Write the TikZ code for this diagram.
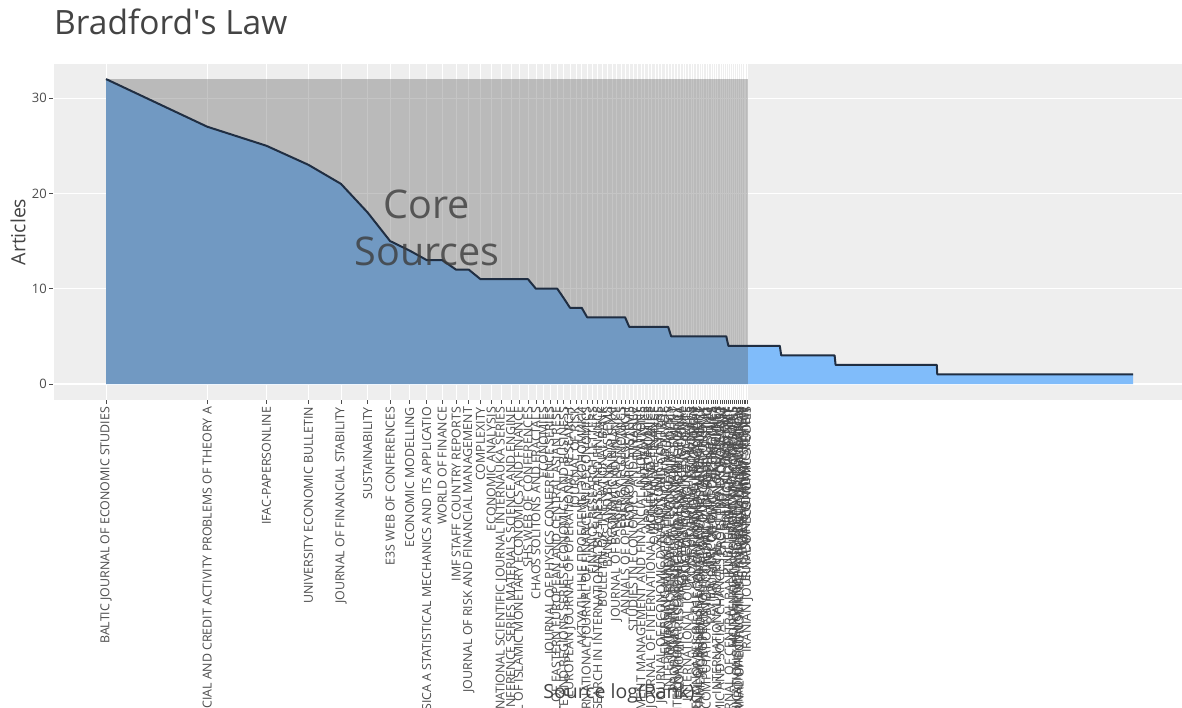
\documentclass[tikz,border=0pt]{standalone}
\usepackage{fontspec}
\setmainfont{Open Sans}
\usetikzlibrary{positioning}
\definecolor{panelgrey}{RGB}{238,238,238}
\definecolor{coregrey}{RGB}{86,86,86}
\definecolor{tailblue}{RGB}{128,188,250}
\definecolor{curveline}{RGB}{32,46,66}
\definecolor{labelgrey}{RGB}{77,77,77}
\definecolor{titlegrey}{RGB}{68,68,68}
\definecolor{coretext}{RGB}{60,60,60}
\tikzstyle{hgrid} = [draw=white, line width=1.2pt]
\tikzstyle{vgrid} = [draw=white, line width=0.6pt]
\tikzstyle{axistick} = [draw=labelgrey, line width=0.6pt]
\tikzstyle{srclabel} = [rotate=90, anchor=east, inner sep=0pt, text=labelgrey, font=\fontsize{12.4}{12.4}\selectfont]
\tikzstyle{ticklabel} = [anchor=east, inner sep=0pt, text=labelgrey, font=\fontsize{13}{13}\selectfont]
\tikzstyle{axistitle} = [inner sep=0pt, text=titlegrey, font=\fontsize{19.5}{20}\selectfont]
\tikzstyle{corelabel} = [anchor=base, inner sep=0pt, text=coretext, text opacity=0.8, font=\fontsize{39.5}{40}\selectfont]
% rank/articles where the curve changes
\def\curvepts{2/27,3/25,4/23,5/21,6/18,7/15,8/14,9/13,10/13,11/12,12/12,13/11,18/11,19/10,22/10,23/9,24/8,26/8,27/7,35/7,36/6,47/6,48/5,70/5,71/4,101/4,102/3,147/3,148/2,296/2,297/1,1135/1}
\begin{document}
\begin{tikzpicture}[x=1pt, y=-1pt]
    \useasboundingbox (0,0) rectangle (1182,707);
    \clip (0,0) rectangle (1182,707);
    \fill[white] (0,0) rectangle (1182,707);
    \node (title) [anchor=base west, inner sep=0pt, text=titlegrey, font=\fontsize{33.5}{34}\selectfont] at (54,34) {Bradford\textquotesingle s Law};
    \fill[panelgrey] (54,64) rectangle (1182,400);

    % x = log(rank), y = articles
    \begin{scope}[shift={(106,384)}, x=146pt, y=9.53pt]
        \foreach \v in {0,10,20,30}
            \draw[hgrid] (-0.36,\v) -- (7.4,\v);
        \foreach \r in {1,...,81}
            \draw[vgrid] ({ln(\r)},-1.68) -- ({ln(\r)},33.6);

        \fill[tailblue] (0,0) -- (0,32) \foreach \r/\v in \curvepts {-- ({ln(\r)},\v)} -- ({ln(1135)},0) -- cycle;
        \fill[coregrey, opacity=0.34] (0,0) rectangle ({ln(81)},32);
        \draw[curveline, line width=2pt, line join=round] (0,32) \foreach \r/\v in \curvepts {-- ({ln(\r)},\v)};

        \foreach \v in {0,10,20,30} {
            \draw[axistick] (-0.39,\v) -- (-0.363,\v);
            \node (ytick\v) [ticklabel] at (-0.404,\v) {\v};
        }

        \foreach \name [count=\r] in {BALTIC JOURNAL OF ECONOMIC STUDIES, FINANCIAL AND CREDIT ACTIVITY PROBLEMS OF THEORY A, IFAC-PAPERSONLINE, UNIVERSITY ECONOMIC BULLETIN, JOURNAL OF FINANCIAL STABILITY, SUSTAINABILITY, E3S WEB OF CONFERENCES, ECONOMIC MODELLING, PHYSICA A STATISTICAL MECHANICS AND ITS APPLICATIO, WORLD OF FINANCE, IMF STAFF COUNTRY REPORTS, JOURNAL OF RISK AND FINANCIAL MANAGEMENT, COMPLEXITY, ECONOMIC ANALYSIS, INTERNATIONAL SCIENTIFIC JOURNAL INTERNAUKA SERIES, IOP CONFERENCE SERIES MATERIALS SCIENCE AND ENGINE, JOURNAL OF ISLAMIC MONETARY ECONOMICS AND FINANCE, SHS WEB OF CONFERENCES, CHAOS SOLITONS AND FRACTALS, ECONOMIES, JOURNAL OF PHYSICS CONFERENCE SERIES, JOURNAL OF EASTERN EUROPEAN AND CENTRAL ASIAN RESE, STATE AND REGIONS SERIES ECONOMICS AND BUSINESS, EUROPEAN JOURNAL OF OPERATIONAL RESEARCH, JOURNAL OF RISK, АКТУАЛЬНЫЕ ПРОБЛЕМЫ ЭКОНОМИКИ, INTERNATIONAL JOURNAL OF FINANCE AND ECONOMICS, FINANCE RESEARCH LETTERS, RESEARCH IN INTERNATIONAL BUSINESS AND FINANCE, BULLETIN OF THE NATIONAL BANK, BANKS AND BANK SYSTEMS, ECONOMIC ANNALS-XXI, JOURNAL OF BANKING AND FINANCE, ENERGY ECONOMICS, ANNALS OF OPERATIONS RESEARCH, ECONOMIC SYSTEMS, STUDIES IN ECONOMICS AND FINANCE, ENTROPY, INVESTMENT MANAGEMENT AND FINANCIAL INNOVATIONS, MATHEMATICS, APPLIED ECONOMICS, JOURNAL OF INTERNATIONAL MONEY AND FINANCE, QUANTITATIVE FINANCE, ECONOMICS LETTERS, JOURNAL OF ECONOMIC DYNAMICS AND CONTROL, EMERGING MARKETS FINANCE AND TRADE, INTERNATIONAL REVIEW OF FINANCIAL ANALYSIS, JOURNAL OF FINANCIAL ECONOMIC POLICY, PROBLEMS AND PERSPECTIVES IN MANAGEMENT, INTERNATIONAL ECONOMICS AND ECONOMIC POLICY, ECONOMIC RESEARCH-EKONOMSKA ISTRAZIVANJA, PACIFIC-BASIN FINANCE JOURNAL, PROCEDIA COMPUTER SCIENCE, INTERNATIONAL JOURNAL OF EMERGING MARKETS, COMPUTATIONAL ECONOMICS, FINANCIAL INNOVATION, ECONOMIES OF THE BALKAN AND EASTERN EUROPE, JOURNAL OF BUSINESS ECONOMICS AND MANAGEMENT, NORTH AMERICAN JOURNAL OF ECONOMICS AND FINANCE, EUROPEAN JOURNAL OF POLITICAL ECONOMY, ECONOMIC COMPUTATION AND ECONOMIC CYBERNETICS STUD, JOURNAL OF FORECASTING, REVIEW OF ECONOMIC PERSPECTIVES, JOURNAL OF MACROECONOMICS, EKONOMIKA, INTERNATIONAL JOURNAL OF FINANCIAL STUDIES, ECONOMIC AND SOCIAL CHANGES FACTS TRENDS FORECAST, PROBLEMY EKOROZWOJU, PLOS ONE, POLITICAL ECONOMY, PUBLIC FINANCE QUARTERLY, JOURNAL OF CENTRAL BANKING THEORY AND PRACTICE, EKONOMICKY CASOPIS, MONTENEGRIN JOURNAL OF ECONOMICS, COMMUNICATIONS IN NONLINEAR SCIENCE AND NUMERICAL, ENVIRONMENTAL SCIENCE AND POLLUTION RESEARCH, JOURNAL OF ECONOMIC BEHAVIOR AND ORGANIZATION, BORSA ISTANBUL REVIEW, MANAGEMENT SCIENCE, EURASIAN ECONOMIC REVIEW, IRANIAN JOURNAL OF ECONOMIC STUDIES} {
            \draw[axistick] ({ln(\r)},-1.68) -- ({ln(\r)},-2.1);
            \node (src\r) [srclabel] at ({ln(\r)},-2.4) {\name};
        }
    \end{scope}

    \node (core) [corelabel] at (427,218) {Core};
    \node (sources) [corelabel] at (427,265) {Sources};
    \node (ytitle) [axistitle, rotate=90] at (18,232) {Articles};
    \node (xtitle) [axistitle, anchor=base] at (619,698) {Source log(Rank)};
\end{tikzpicture}
\end{document}
